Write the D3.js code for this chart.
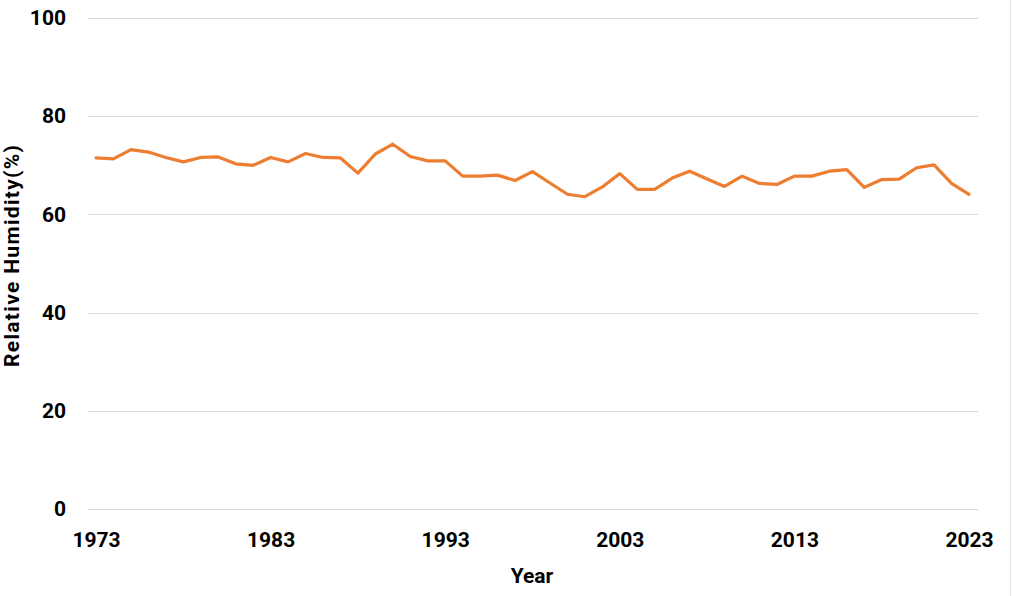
<!DOCTYPE html>
<html>
<head>
<meta charset="utf-8">
<script src="https://cdn.jsdelivr.net/npm/d3@7"></script>
<style>
  html, body { margin: 0; padding: 0; background: #fff; }
  svg { display: block; }
  text { font-family: Roboto, "Open Sans", sans-serif; font-weight: bold; fill: #000; }
</style>
</head>
<body>
<svg id="chart" width="1012" height="596"></svg>
<script>
const years = d3.range(1973, 2024);
const humidity = [
  71.5, 71.3, 73.2, 72.7, 71.6, 70.7, 71.6, 71.7, 70.3, 70.0,
  71.6, 70.7, 72.4, 71.6, 71.5, 68.4, 72.3, 74.3, 71.8, 70.9,
  70.9, 67.8, 67.8, 68.0, 66.9, 68.7, 66.4, 64.1, 63.6, 65.6,
  68.3, 65.1, 65.1, 67.4, 68.8, 67.2, 65.7, 67.8, 66.3, 66.1,
  67.8, 67.8, 68.8, 69.1, 65.5, 67.1, 67.2, 69.5, 70.1, 66.3,
  64.1
];
const yTicks = [0, 20, 40, 60, 80, 100];
const xTicks = [1973, 1983, 1993, 2003, 2013, 2023];
const xTitle = "Year";
const yTitle = "Relative Humidity(%)";

const svg = d3.select("#chart");
const gridLeft = 88, gridRight = 978;
const x = d3.scaleLinear().domain([1973, 2023]).range([96, 969]);
const y = d3.scaleLinear().domain([0, 100]).range([509, 18]);

// right border line
svg.append("line").attr("x1", 1010.5).attr("x2", 1010.5).attr("y1", 0).attr("y2", 596)
  .attr("stroke", "#e6e6e6").attr("stroke-width", 1);

// gridlines
svg.append("g").selectAll("line").data(yTicks).join("line")
  .attr("x1", gridLeft).attr("x2", gridRight)
  .attr("y1", d => Math.round(y(d)) + 0.5).attr("y2", d => Math.round(y(d)) + 0.5)
  .attr("stroke", "#d9d9d9").attr("stroke-width", 1);

// y axis labels
const yAxis = d3.axisLeft(y).tickValues(yTicks).tickSize(0).tickPadding(0);
const gy = svg.append("g").attr("transform", "translate(66,0)").call(yAxis);
gy.select(".domain").remove();
gy.selectAll("text").style("font-size", "21px").style("font-family", "Roboto, sans-serif")
  .style("font-weight", "bold").attr("fill", "#000");

// x axis labels
const xAxis = d3.axisBottom(x).tickValues(xTicks).tickFormat(d3.format("d")).tickSize(0).tickPadding(0);
const gx = svg.append("g").attr("transform", "translate(0,532)").call(xAxis);
gx.select(".domain").remove();
gx.selectAll("text").style("font-size", "21px").style("font-family", "Roboto, sans-serif")
  .style("font-weight", "bold").attr("fill", "#000");

// line
const line = d3.line().x((d, i) => x(years[i])).y(d => y(d));
svg.append("path").datum(humidity)
  .attr("d", line).attr("fill", "none")
  .attr("stroke", "#ED7D31").attr("stroke-width", 3.2)
  .attr("stroke-linejoin", "round").attr("stroke-linecap", "round");

// titles
svg.append("text").attr("x", 532).attr("y", 583).attr("text-anchor", "middle")
  .style("font-size", "21px").text(xTitle);
svg.append("text").attr("transform", "translate(19,256) rotate(-90)").attr("text-anchor", "middle")
  .attr("textLength", 222).attr("lengthAdjust", "spacing")
  .style("font-size", "21px").text(yTitle);
</script>
</body>
</html>
